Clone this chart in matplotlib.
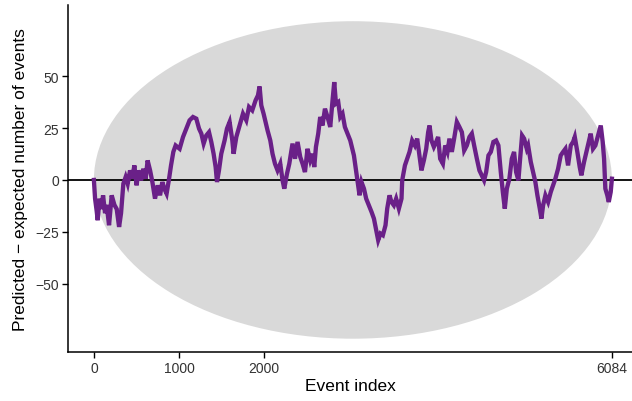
import matplotlib
matplotlib.use("Agg")
import matplotlib.pyplot as plt
from matplotlib.patches import Ellipse
import numpy as np

n_events = 6084
band_half_height = 76.4

event_index = [0, 14, 33, 45, 65, 85, 108, 131, 150, 178, 209, 241, 268, 296, 319, 346, 373, 397,
               425, 452, 475, 502, 522, 554, 581, 608, 631, 660, 687, 718, 749, 777, 804, 827, 854,
               883, 906, 933, 960, 1007, 1047, 1086, 1124, 1164, 1203, 1235, 1262, 1289, 1320, 1352,
               1379, 1406, 1430, 1446, 1469, 1496, 1535, 1563, 1594, 1626, 1641, 1673, 1711, 1751,
               1790, 1822, 1860, 1899, 1927, 1946, 1966, 1993, 2040, 2072, 2098, 2127, 2157, 2189,
               2216, 2236, 2268, 2295, 2333, 2362, 2392, 2424, 2451, 2479, 2509, 2541, 2568, 2588,
               2608, 2635, 2658, 2685, 2714, 2744, 2776, 2803, 2823, 2843, 2870, 2893, 2920, 2948,
               2979, 3011, 3054, 3081, 3093, 3120, 3143, 3172, 3198, 3230, 3261, 3289, 3316, 3339,
               3366, 3394, 3425, 3445, 3472, 3495, 3523, 3550, 3582, 3613, 3621, 3653, 3680, 3707,
               3738, 3770, 3797, 3824, 3847, 3876, 3903, 3926, 3942, 3965, 3993, 4020, 4043, 4067,
               4099, 4126, 4153, 4176, 4204, 4231, 4263, 4293, 4322, 4349, 4380, 4411, 4439, 4466,
               4498, 4528, 4556, 4583, 4607, 4634, 4662, 4692, 4724, 4751, 4779, 4803, 4826, 4850,
               4880, 4908, 4935, 4959, 4986, 5006, 5029, 5053, 5084, 5100, 5131, 5158, 5185, 5209,
               5237, 5256, 5276, 5303, 5335, 5366, 5393, 5420, 5452, 5483, 5511, 5538, 5569, 5601,
               5628, 5648, 5678, 5706, 5725, 5757, 5784, 5812, 5835, 5862, 5890, 5921, 5953, 5976,
               5992, 6000, 6007, 6030, 6047, 6070, 6084]

difference = [0, -9, -15, -19.4, -9, -14, -7.4, -16, -12, -21.8, -7.4, -12, -14, -22.6, -16, -1.8,
              1.4, -1.8, 4.6, 0.6, 7, -2.6, 4.6, -0.2, 5.4, 0.6, 9.4, 4.6, -1, -9, -2.6, -7.4, -1,
              -4.2, -6.6, 0.6, 7, 13.5, 16.6, 15, 20.7, 24.7, 28.7, 30.3, 29.5, 24.7, 22.3, 17.5,
              21.4, 23, 18.3, 12.6, 6.2, -1, 4.6, 12.6, 19, 24.7, 27.9, 19, 12.6, 20.7, 26.2, 31.9,
              28.7, 35.1, 33.5, 38.3, 40.7, 45, 35.9, 31.9, 23.8, 19, 12.6, 7.8, 4.6, 7.8, -0.2,
              -4.2, 3, 7.8, 17.5, 10.2, 18.3, 11, 7.8, 3.8, 15, 9.4, 12.6, 6.2, 15.9, 22.3, 30.3,
              26.2, 34.3, 30.3, 25.5, 38.3, 47.1, 36.7, 37.5, 30.3, 31.9, 25.5, 22.3, 19, 11.8, 3.8,
              0.6, -7.4, -1, -4.2, -9, -12.2, -15.4, -18.6, -24.2, -29, -25.8, -26.6, -21.8, -13.8,
              -7.4, -10.6, -12.2, -9, -13.8, -9, -0.2, 7, 10.2, 13.5, 19, 16.6, 19.9, 11.8, 4.6,
              9.5, 15, 23, 26.2, 19, 15.9, 18.3, 20.7, 10.2, 7.8, 16.6, 13.5, 19.9, 13.5, 19.9,
              27.9, 25.5, 23, 14.2, 16.6, 20.7, 22.3, 16.6, 10.2, 4.6, 2.2, -0.2, 3.8, 11.8, 13.5,
              18.3, 19, 16.6, 3.8, -5.8, -13.8, -4.2, 0.6, 10.2, 13.5, 3.8, -0.2, 10.2, 21.4, 19.9,
              15, 16.6, 8.7, 3.8, -1, -7.4, -13.8, -18.6, -12.2, -7.4, -10.6, -5.8, -2.6, 0.6, 5.4,
              11.8, 13.5, 15, 7, 16.6, 18.3, 20.7, 13.5, 6.2, 2.2, 8.7, 13.5, 18.3, 22.3, 15, 16.6,
              21.4, 26.2, 18.3, 10.2, 2.2, -4.2, -7.4, -10.6, -5.8, 0.6]

x_ticks = [0, 1000, 2000, 6084]
y_ticks = [-50, -25, 0, 25, 50]

plt.rcParams['font.family'] = ['Liberation Sans', 'DejaVu Sans']

fig = plt.figure(figsize=(6.32, 4.02), dpi=100)
ax = fig.add_axes([68 / 632, 1 - 353 / 402, 1 - 68 / 632, (353 - 6) / 402])

ell = Ellipse((n_events / 2, 0), width=n_events, height=2 * band_half_height,
              facecolor='#D9D9D9', edgecolor='none', zorder=1)
ax.add_patch(ell)

ax.axhline(0, color='black', lw=1.3, zorder=2)
ax.plot(event_index, difference, color='#6A2088', lw=3.1, zorder=3,
        solid_joinstyle='miter')

ax.set_xlim(-304, 6320)
ax.set_ylim(-82.8, 84.2)
ax.set_xticks(x_ticks)
ax.set_xticklabels([str(t) for t in x_ticks])
ax.set_yticks(y_ticks)
ax.set_yticklabels([str(t).replace('-', '\u2212') for t in y_ticks])

for s in ['top', 'right']:
    ax.spines[s].set_visible(False)
for s in ['left', 'bottom']:
    ax.spines[s].set_linewidth(1.1)
    ax.spines[s].set_color('black')

ax.tick_params(axis='both', direction='out', length=4, width=1.0, color='black',
               labelsize=10, labelcolor='#333333', pad=2.5)

ax.set_xlabel('Event index', fontsize=12.5, color='black', labelpad=2)
ax.set_ylabel('Predicted \u2212 expected number of events', fontsize=12.5, color='black', labelpad=5)

fig.savefig('out.png', dpi=100)
